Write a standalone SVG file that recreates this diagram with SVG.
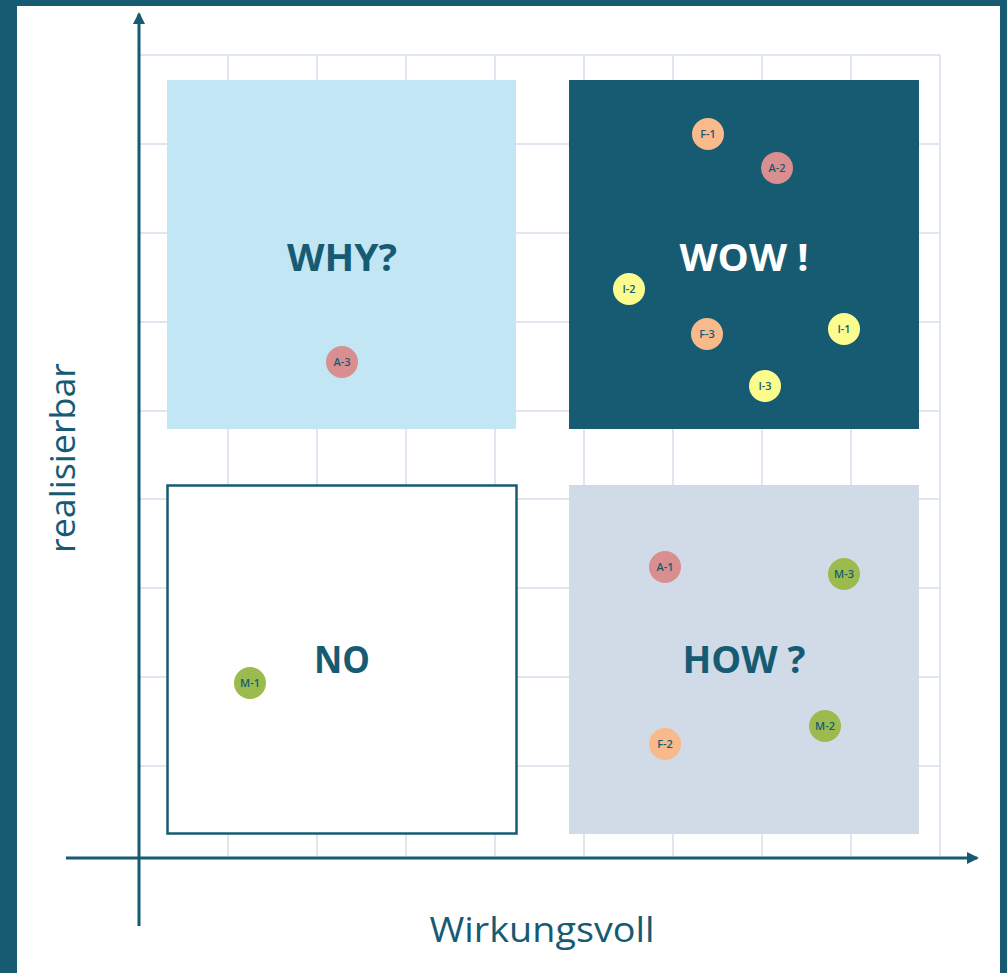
<svg xmlns="http://www.w3.org/2000/svg" width="1007" height="973" viewBox="0 0 1007 973">
<style>
.grid line{stroke:#dfe6ef;stroke-width:2}
.axis{stroke:#175b73;stroke-width:3;fill:none}
.big{font-family:"Open Sans","Liberation Sans",Arial,sans-serif;font-weight:bold;font-size:38px;text-anchor:middle}
.dot text{font-family:"Open Sans","Liberation Sans",sans-serif;font-weight:600;font-size:11px;fill:#175b73;text-anchor:middle}
.F{fill:#f8ba8a}.A{fill:#d98e8f}.I{fill:#fcfc8e}.M{fill:#9bbb4f}
.lbl{font-family:"Open Sans","Liberation Sans",sans-serif;font-size:35px;fill:#175b73}
</style>
<defs>
<marker id="arr" viewBox="0 0 12 12" refX="10" refY="6" markerWidth="12" markerHeight="12" markerUnits="userSpaceOnUse" orient="auto">
<path d="M0,0 L12,6 L0,12 Z" fill="#175b73"/>
</marker>
</defs>
<rect x="0" y="0" width="1007" height="973" fill="#175b73"/>
<rect x="17" y="6" width="983" height="967" fill="#ffffff"/>
<g class="grid">
<line x1="140" y1="55" x2="940" y2="55"/>
<line x1="140" y1="144" x2="940" y2="144"/>
<line x1="140" y1="233" x2="940" y2="233"/>
<line x1="140" y1="322" x2="940" y2="322"/>
<line x1="140" y1="411" x2="940" y2="411"/>
<line x1="140" y1="499" x2="940" y2="499"/>
<line x1="140" y1="588" x2="940" y2="588"/>
<line x1="140" y1="677" x2="940" y2="677"/>
<line x1="140" y1="766" x2="940" y2="766"/>
<line x1="228" y1="55" x2="228" y2="856"/>
<line x1="317" y1="55" x2="317" y2="856"/>
<line x1="406" y1="55" x2="406" y2="856"/>
<line x1="495" y1="55" x2="495" y2="856"/>
<line x1="584" y1="55" x2="584" y2="856"/>
<line x1="673" y1="55" x2="673" y2="856"/>
<line x1="762" y1="55" x2="762" y2="856"/>
<line x1="851" y1="55" x2="851" y2="856"/>
<line x1="940" y1="55" x2="940" y2="856"/>
</g>
<g id="why">
<rect x="167" y="80" width="349" height="349" fill="#c2e6f4"/>
<text class="big" x="342" y="271" fill="#175b73" textLength="110" lengthAdjust="spacingAndGlyphs">WHY?</text>
</g>
<g id="wow">
<rect x="569" y="80" width="350" height="349" fill="#175b73"/>
<text class="big" x="744" y="271" fill="#ffffff" textLength="129" lengthAdjust="spacingAndGlyphs">WOW !</text>
</g>
<g id="no">
<rect x="167.5" y="485.5" width="349" height="348" fill="#ffffff" stroke="#175b73" stroke-width="2.5"/>
<text class="big" x="342" y="673" fill="#175b73" textLength="56" lengthAdjust="spacingAndGlyphs">NO</text>
</g>
<g id="how">
<rect x="569" y="485" width="350" height="349" fill="#d1dbe7"/>
<text class="big" x="744" y="673" fill="#175b73" textLength="123" lengthAdjust="spacingAndGlyphs">HOW ?</text>
</g>
<g id="connectors">
<line class="axis" x1="139" y1="926" x2="139" y2="14" marker-end="url(#arr)"/>
<line class="axis" x1="66" y1="858" x2="977" y2="858" marker-end="url(#arr)"/>
</g>
<g id="dot-F1" class="dot"><circle class="F" cx="708" cy="134" r="16"/><text x="708" y="138">F-1</text></g>
<g id="dot-A2" class="dot"><circle class="A" cx="777" cy="168" r="16"/><text x="777" y="172">A-2</text></g>
<g id="dot-I2" class="dot"><circle class="I" cx="629" cy="289" r="16"/><text x="629" y="293">I-2</text></g>
<g id="dot-F3" class="dot"><circle class="F" cx="707" cy="334" r="16"/><text x="707" y="338">F-3</text></g>
<g id="dot-I1" class="dot"><circle class="I" cx="844" cy="329" r="16"/><text x="844" y="333">I-1</text></g>
<g id="dot-I3" class="dot"><circle class="I" cx="765" cy="386" r="16"/><text x="765" y="390">I-3</text></g>
<g id="dot-A3" class="dot"><circle class="A" cx="342" cy="362" r="16"/><text x="342" y="366">A-3</text></g>
<g id="dot-A1" class="dot"><circle class="A" cx="665" cy="567" r="16"/><text x="665" y="571">A-1</text></g>
<g id="dot-M3" class="dot"><circle class="M" cx="844" cy="574" r="16"/><text x="844" y="578">M-3</text></g>
<g id="dot-M2" class="dot"><circle class="M" cx="825" cy="726" r="16"/><text x="825" y="730">M-2</text></g>
<g id="dot-F2" class="dot"><circle class="F" cx="665" cy="744" r="16"/><text x="665" y="748">F-2</text></g>
<g id="dot-M1" class="dot"><circle class="M" cx="250" cy="683" r="16"/><text x="250" y="687">M-1</text></g>
<text class="lbl" x="542" y="942" text-anchor="middle" textLength="225" lengthAdjust="spacingAndGlyphs">Wirkungsvoll</text>
<text class="lbl" transform="translate(75,458) rotate(-90)" x="0" y="0" text-anchor="middle" textLength="190" lengthAdjust="spacingAndGlyphs">realisierbar</text>
</svg>
